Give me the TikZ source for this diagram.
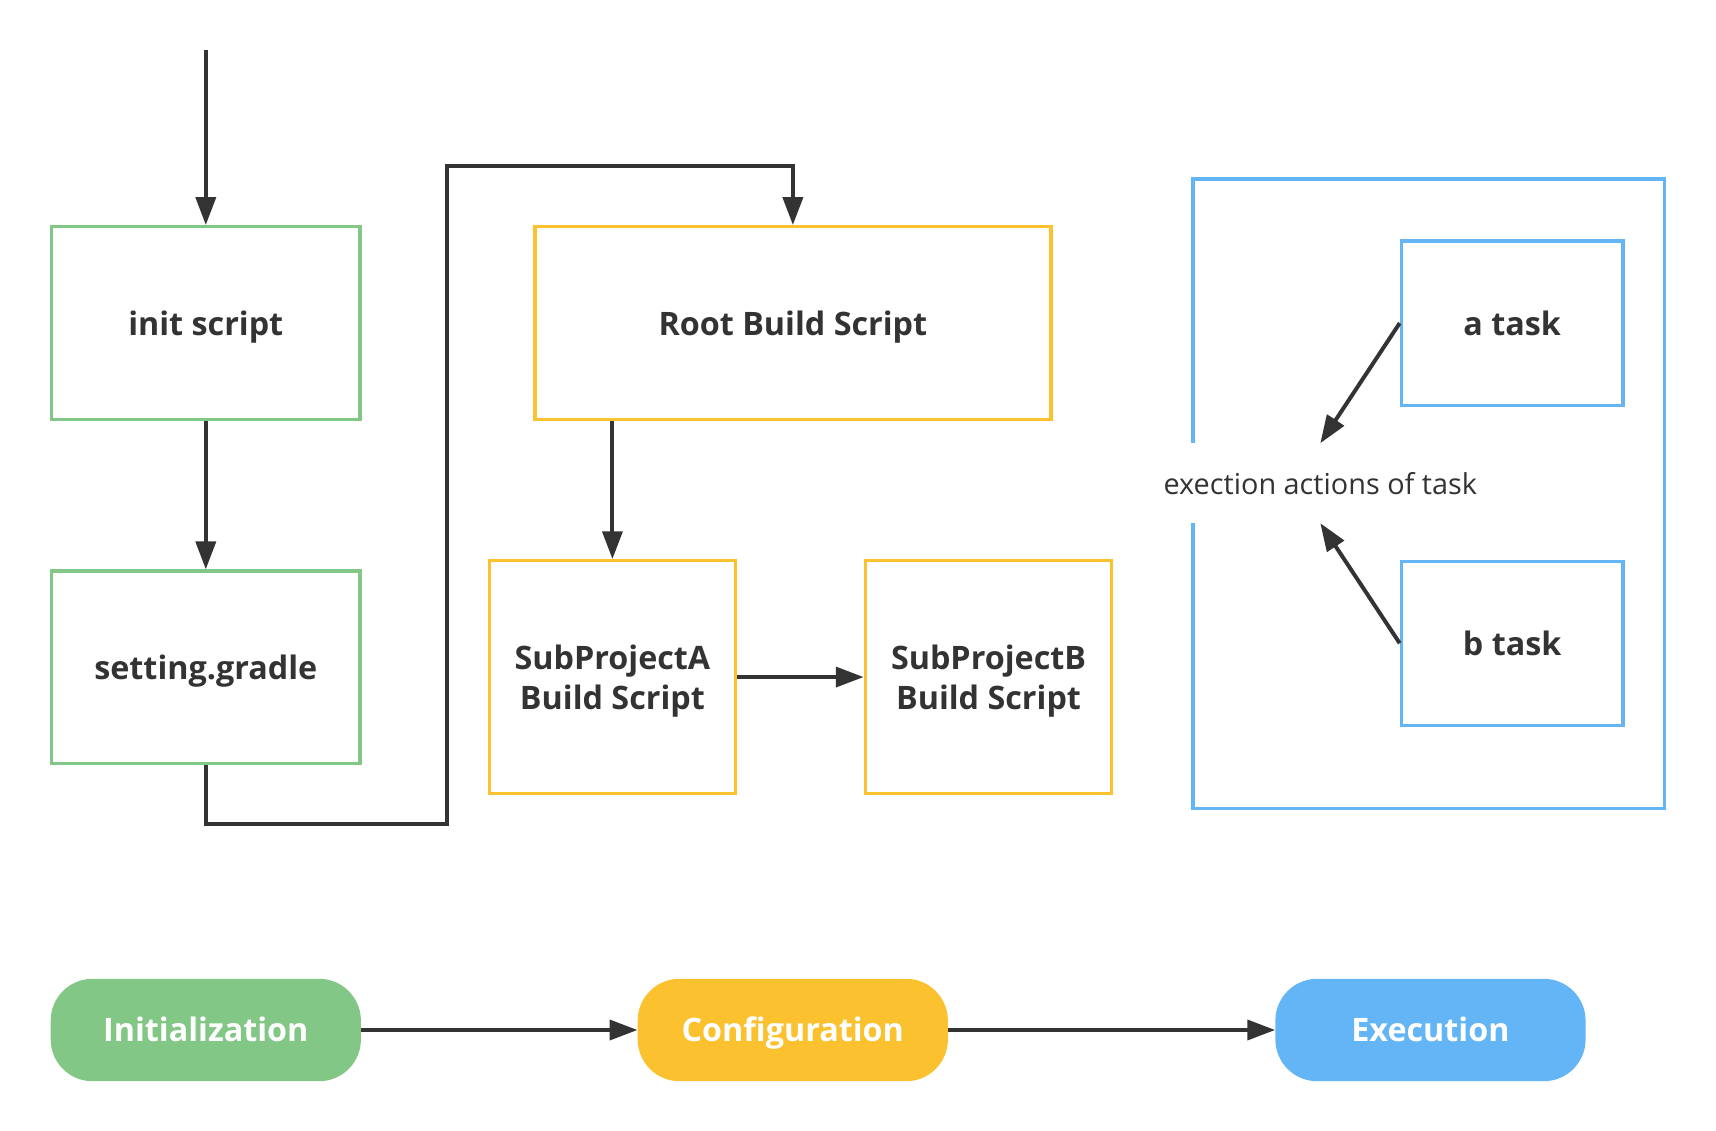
\documentclass[tikz,border=0pt]{standalone}
\usepackage{fontspec}
\setmainfont{Open Sans}
\usetikzlibrary{positioning,arrows.meta}
\definecolor{initgreen}{HTML}{82C785}
\definecolor{confyellow}{HTML}{FBC12E}
\definecolor{execblue}{HTML}{64B5F6}
\definecolor{darkline}{HTML}{333333}
\tikzset{main node/.style={rectangle,draw,line width=3.3pt,inner sep=0pt,align=center,text depth=0pt,text=darkline,font=\fontsize{32.5}{40}\selectfont\bfseries},
phase node/.style={rectangle,rounded corners=42pt,minimum width=312pt,minimum height=103pt,inner sep=0pt,text height=24pt,text depth=0pt,text=white,font=\fontsize{32.5}{40}\selectfont\bfseries},
flow/.style={draw=darkline,line width=4pt,-{Triangle[length=28pt,width=20pt]}},
}

\begin{document}
\begin{tikzpicture}[x=1pt,y=-1pt]
	\useasboundingbox (0,0) rectangle (1726,1137);
	\node[main node,draw=initgreen,minimum width=310pt,minimum height=194pt] (init) at (207,325) {init script};
	\node[main node,draw=initgreen,minimum width=310pt,minimum height=194pt] (setting)[below = 149pt of init]{setting.gradle};
	\node[main node,draw=confyellow,minimum width=519pt,minimum height=194pt] (root) at (797.5,325) {Root Build Script};
	\node[main node,draw=confyellow,minimum width=248pt,minimum height=234pt] (subA) at (616,681) {SubProjectA\\Build Script};
	\node[main node,draw=confyellow,minimum width=248pt,minimum height=234pt] (subB)[right = 127pt of subA]{SubProjectB\\Build Script};
	
	% execution part
	\node[main node,draw=execblue,minimum width=474pt,minimum height=633pt] (frame) at (1437,496.5) {};
	\node[main node,draw=execblue,minimum width=223pt,minimum height=165pt] (atask) at (1521,325) {a task};
	\node[main node,draw=execblue,minimum width=223pt,minimum height=165pt] (btask) at (1521,647) {b task};
	\node[fill=white,text=darkline,minimum height=80pt,inner xsep=2pt,font=\fontsize{29}{34}\selectfont] (actions) at (1328,486) {exection actions of task};
	
	% phases
	\node[phase node,fill=initgreen] (initialization) at (207,1036) {Initialization};
	\node[phase node,fill=confyellow] (configuration)[right = 278pt of initialization]{Configuration};
	\node[phase node,fill=execblue] (execution)[right = 329pt of configuration]{Execution};
	
	\coordinate (start) at (207,50);
	\coordinate (low turn) at (450,829);
	\coordinate (high turn) at (450,167);
	
	\path
	(start) edge[flow] (init)
	(init) edge[flow] (setting)
	(root.south -| subA.north) edge[flow] (subA.north)
	(subA) edge[flow] (subB)
	(atask.west) edge[flow] (actions.north)
	(btask.west) edge[flow] (actions.south)
	(initialization) edge[flow] (configuration)
	(configuration) edge[flow] (execution);
	\draw[flow] (setting.south) |- (low turn) -- (high turn) -| (root.north);
\end{tikzpicture}
\end{document}
